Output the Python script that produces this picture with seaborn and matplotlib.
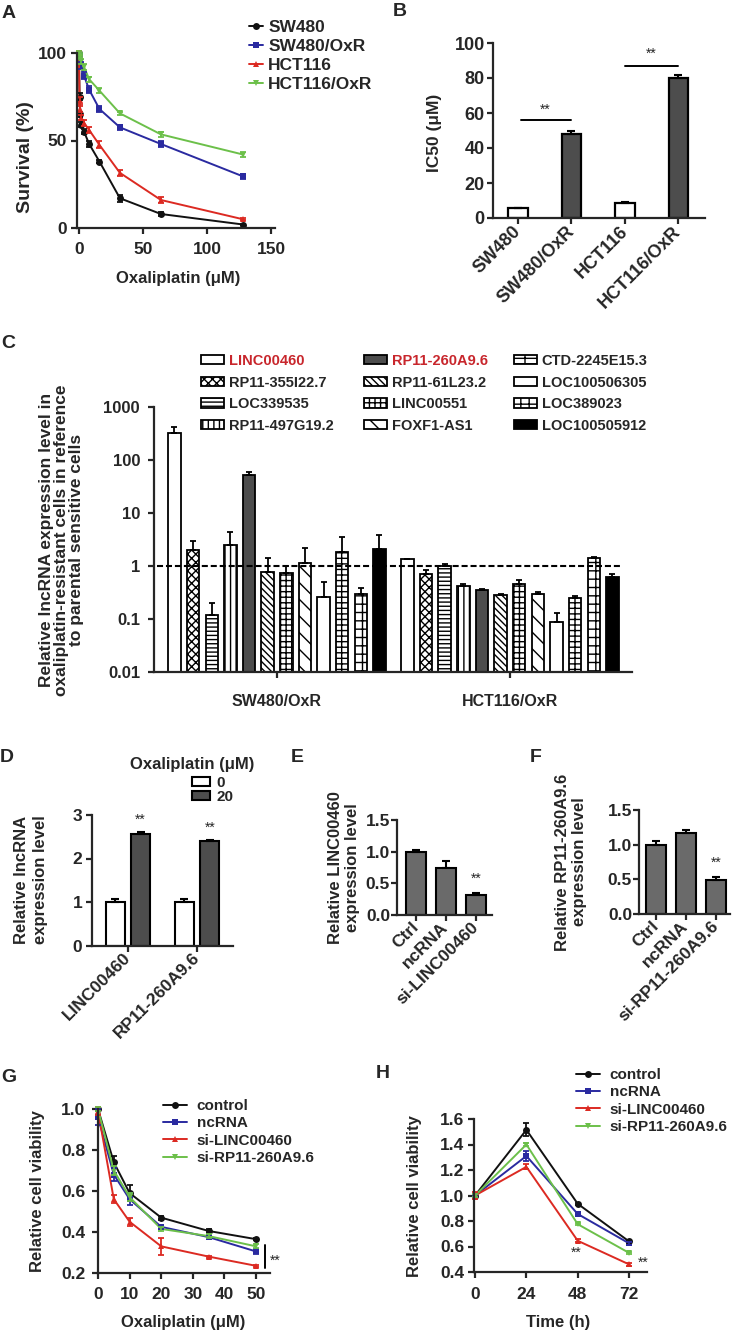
"""
Oxaliplatin resistance / lncRNA multi-panel figure (A-H).
"""

import numpy as np
import pandas as pd
import matplotlib
matplotlib.use('Agg')
import matplotlib.pyplot as plt
import seaborn as sns
from matplotlib.patches import Patch
from matplotlib.lines import Line2D

# ---------------- data ----------------
# A: survival curves
dose_a = [0, 0.5, 1, 2, 4, 8, 16, 32, 64, 128]
lines_a = ['SW480', 'SW480/OxR', 'HCT116', 'HCT116/OxR']
surv_sw480 = [100, 75, 65, 59, 55, 48, 38, 17, 8, 2]
surv_sw480_oxr = [100, 99, 98, 93, 87, 79, 68, 57.5, 48, 29.5]
surv_hct116 = [100, 73, 68, 63, 60, 56, 47.5, 31.5, 16, 5]
surv_hct116_oxr = [100, 99, 98, 95, 92, 85, 78.5, 65.5, 53.5, 42]
err_sw480 = [1, 2, 1.5, 1.5, 1.5, 1.5, 1, 2, 1, 0.5]
err_sw480_oxr = [1, 1, 1.5, 2, 2, 2, 1.5, 1.5, 1.5, 1.5]
err_hct116 = [1, 2, 1.5, 1.5, 1.5, 1.5, 2, 1.5, 1.5, 0.5]
err_hct116_oxr = [1, 1, 1, 1.5, 1.5, 1.5, 1.5, 1, 1.5, 1.5]

# B: IC50
ic50_cells = ['SW480', 'SW480/OxR', 'HCT116', 'HCT116/OxR']
ic50_vals = [5.5, 48, 8.5, 80]
ic50_err = [0.3, 2, 0.4, 2]

# C: lncRNA expression (resistant vs parental)
groups_c = ['SW480/OxR', 'HCT116/OxR']
lnc_names = ['LINC00460', 'RP11-355I22.7', 'LOC339535', 'RP11-497G19.2',
             'RP11-260A9.6', 'RP11-61L23.2', 'LINC00551', 'FOXF1-AS1',
             'LOC100506305', 'CTD-2245E15.3', 'LOC389023', 'LOC100505912']
lnc_sw480 = [330, 2.0, 0.12, 2.5, 52, 0.78, 0.73, 1.12, 0.26, 1.8, 0.30, 2.05]
lnc_sw480_err = [90, 1.0, 0.08, 1.8, 7, 0.65, 0.27, 1.1, 0.23, 1.7, 0.09, 1.85]
lnc_hct116 = [1.33, 0.71, 1.0, 0.42, 0.36, 0.285, 0.45, 0.29, 0.087, 0.25, 1.39, 0.62]
lnc_hct116_err = [0.03, 0.12, 0.1, 0.04, 0.01, 0.005, 0.1, 0.03, 0.045, 0.02, 0.08, 0.08]
legend_order_c = ['LINC00460', 'RP11-355I22.7', 'LOC339535', 'RP11-497G19.2',
                  'RP11-260A9.6', 'RP11-61L23.2', 'LINC00551', 'FOXF1-AS1',
                  'CTD-2245E15.3', 'LOC100506305', 'LOC389023', 'LOC100505912']

# D: lncRNA induction by oxaliplatin
genes_d = ['LINC00460', 'RP11-260A9.6']
doses_d = ['0', '20']
d_dose0 = [1.0, 1.0]
d_dose0_err = [0.08, 0.07]
d_dose20 = [2.57, 2.4]
d_dose20_err = [0.05, 0.03]

# E, F: knockdown efficiency
groups_e = ['Ctrl', 'ncRNA', 'si-LINC00460']
vals_e = [1.0, 0.74, 0.31]
err_e = [0.03, 0.11, 0.03]
groups_f = ['Ctrl', 'ncRNA', 'si-RP11-260A9.6']
vals_f = [1.0, 1.17, 0.49]
err_f = [0.06, 0.04, 0.05]

# G: viability vs oxaliplatin dose
conds = ['control', 'ncRNA', 'si-LINC00460', 'si-RP11-260A9.6']
dose_g = [0, 5, 10, 20, 35, 50]
g_control = [1.0, 0.74, 0.59, 0.47, 0.405, 0.365]
g_ncrna = [0.96, 0.68, 0.56, 0.425, 0.375, 0.305]
g_si_linc = [0.99, 0.56, 0.45, 0.33, 0.28, 0.235]
g_si_rp11 = [1.0, 0.70, 0.57, 0.415, 0.38, 0.33]
g_control_err = [0.01, 0.03, 0.04, 0.01, 0.01, 0.005]
g_ncrna_err = [0.04, 0.03, 0.03, 0.01, 0.01, 0.01]
g_si_linc_err = [0.02, 0.02, 0.02, 0.04, 0.005, 0.005]
g_si_rp11_err = [0.01, 0.02, 0.02, 0.01, 0.01, 0.01]

# H: viability over time
time_h = [0, 24, 48, 72]
h_control = [1.0, 1.515, 0.935, 0.64]
h_ncrna = [1.0, 1.31, 0.855, 0.625]
h_si_linc = [1.0, 1.225, 0.645, 0.46]
h_si_rp11 = [1.0, 1.40, 0.775, 0.55]
h_control_err = [0.01, 0.05, 0.01, 0.01]
h_ncrna_err = [0.01, 0.04, 0.01, 0.01]
h_si_linc_err = [0.03, 0.02, 0.01, 0.01]
h_si_rp11_err = [0.01, 0.01, 0.01, 0.01]

# ---------------- style ----------------
sns.set_style('ticks')
plt.rcParams['font.family'] = ['Liberation Sans', 'DejaVu Sans']
plt.rcParams['font.weight'] = 'bold'
plt.rcParams['axes.labelweight'] = 'bold'
plt.rcParams['font.size'] = 12
plt.rcParams['hatch.linewidth'] = 1.0

BLACK, BLUE, RED, GREEN = '#111111', '#2a2aa0', '#dc2a22', '#6cc04a'
DARK = '#4d4d4d'
TXT_RED = '#c8262c'

W, H = 734, 1333
fig = plt.figure(figsize=(W / 100, H / 100), dpi=100)


def px_axes(l, t, r, b):
    """Axes whose spines sit at the given pixel box."""
    return fig.add_axes([l / W, 1 - b / H, (r - l) / W, (b - t) / H])


def px_text(x, y, s, **kw):
    kw.setdefault('ha', 'center')
    kw.setdefault('va', 'center')
    return fig.text(x / W, 1 - y / H, s, **kw)


def prism(ax, size=12.5, xpad=2, ypad=2):
    sns.despine(ax=ax)
    for sp in ('left', 'bottom'):
        ax.spines[sp].set_linewidth(1.6)
    ax.tick_params(width=1.6, length=4, labelsize=size)
    ax.tick_params(axis='x', pad=xpad)
    ax.tick_params(axis='y', pad=ypad)
    ax.minorticks_off()
    ax.set_xlabel('')
    ax.set_ylabel('')


def bar_errors(ax, errs, lw=1.5, cap=3):
    bars = sorted(ax.patches, key=lambda p: p.get_x())
    xs = [b.get_x() + b.get_width() / 2 for b in bars]
    ys = [b.get_height() for b in bars]
    ax.errorbar(xs, ys, yerr=[np.zeros(len(errs)), errs], fmt='none',
                ecolor='black', elinewidth=lw, capsize=cap, capthick=lw, zorder=1)
    return bars


def line_panel(ax, x, series, errs, names, colors, markers):
    df = pd.DataFrame({'x': list(x) * len(series),
                       'y': np.concatenate(series),
                       'g': np.repeat(names, len(x))})
    sns.lineplot(data=df, x='x', y='y', hue='g', style='g', hue_order=names,
                 palette=dict(zip(names, colors)), markers=dict(zip(names, markers)),
                 dashes=False, errorbar=None, legend=False, ax=ax, lw=1.4,
                 markersize=5, markeredgewidth=0, clip_on=False)
    for s, e, c in zip(series, errs, colors):
        ax.errorbar(x, s, yerr=e, fmt='none', ecolor=c, elinewidth=1.3,
                    capsize=2.5, capthick=1.3, clip_on=False)
    return [Line2D([0], [0], color=c, marker=m, lw=1.4, markersize=5,
                   markeredgewidth=0) for c, m in zip(colors, markers)]


def rotate_xticks(ax, size=12.5):
    plt.setp(ax.get_xticklabels(), rotation=45, ha='right', va='center',
             rotation_mode='anchor', fontsize=size)


# ---------------- A ----------------
ax = px_axes(77, 53, 275, 228)
handles = line_panel(ax, dose_a,
                     [surv_sw480, surv_sw480_oxr, surv_hct116, surv_hct116_oxr],
                     [err_sw480, err_sw480_oxr, err_hct116, err_hct116_oxr],
                     lines_a, [BLACK, BLUE, RED, GREEN], ['o', 's', '^', 'v'])
ax.set_xlim(-1.5, 153)
ax.set_ylim(0, 100)
ax.set_xticks([0, 50, 100, 150])
ax.set_yticks([0, 50, 100])
prism(ax, size=12.5, xpad=6, ypad=3)
px_text(25, 157, 'Survival (%)', rotation=90, fontsize=14)
px_text(178, 279, 'Oxaliplatin (μM)', fontsize=12)
fig.legend(handles, lines_a, loc='upper left', bbox_to_anchor=(249 / W, 1 - 20 / H),
           frameon=False, borderpad=0, borderaxespad=0, handlelength=0.8,
           handletextpad=0.3, labelspacing=0.22, fontsize=12.5)

# ---------------- B ----------------
ax = px_axes(493, 43, 705, 218)
df_b = pd.DataFrame({'cell': ic50_cells, 'ic50': ic50_vals})
sns.barplot(data=df_b, x='cell', y='ic50', hue='cell', order=ic50_cells,
            palette=['white', DARK, 'white', DARK], dodge=False, width=0.36,
            edgecolor='black', linewidth=1.6, legend=False, ax=ax)
bar_errors(ax, ic50_err)
ax.set_xlim(-0.47, 3.5)
ax.set_ylim(0, 100)
ax.set_yticks(range(0, 101, 20))
prism(ax, size=13, xpad=4, ypad=2)
rotate_xticks(ax, 13)
ax.plot([0.05, 1.0], [56, 56], color='black', lw=1.4)
ax.plot([2.0, 3.0], [87, 87], color='black', lw=1.4)
ax.text(0.5, 62, '**', ha='center', va='center', fontsize=10, fontweight='normal')
ax.text(2.5, 94, '**', ha='center', va='center', fontsize=10, fontweight='normal')
px_text(435, 133, 'IC50 (μM)', rotation=90, fontsize=12.5)

# ---------------- C ----------------
style_c = {
    'LINC00460': ('white', ''),
    'RP11-355I22.7': ('white', 'xxxx'),
    'LOC339535': ('white', '----'),
    'RP11-497G19.2': ('white', '|||'),
    'RP11-260A9.6': (DARK, ''),
    'RP11-61L23.2': ('white', '\\\\\\\\\\'),
    'LINC00551': ('white', '+++'),
    'FOXF1-AS1': ('white', '\\\\'),
    'LOC100506305': ('white', ''),
    'CTD-2245E15.3': ('white', '---|'),
    'LOC389023': ('white', '++'),
    'LOC100505912': ('black', ''),
}
ax = px_axes(154, 407, 632, 672)
ax.set_yscale('log')
df_c = pd.DataFrame({'group': np.repeat(groups_c, len(lnc_names)),
                     'lnc': lnc_names * 2,
                     'expr': lnc_sw480 + lnc_hct116})
sns.barplot(data=df_c, x='group', y='expr', hue='lnc', hue_order=lnc_names,
            order=groups_c, palette=['white'] * len(lnc_names), width=0.96, gap=0.33,
            edgecolor='black', linewidth=1.3, legend=False, ax=ax)
bars = bar_errors(ax, lnc_sw480_err + lnc_hct116_err, lw=1.3, cap=2.5)
for i, b in enumerate(bars):
    fc, hatch = style_c[lnc_names[i % len(lnc_names)]]
    b.set_facecolor(fc)
    b.set_hatch(hatch)
ax.axhline(1, xmin=0.006, xmax=0.975, color='black', lw=1.5, ls=(0, (2.9, 1.4)), zorder=5)
ax.set_xlim(-0.528, 1.524)
ax.set_ylim(0.01, 1000)
ax.set_yticks([0.01, 0.1, 1, 10, 100, 1000])
ax.set_yticklabels(['0.01', '0.1', '1', '10', '100', '1000'])
prism(ax, size=12, xpad=12, ypad=6)
ax.tick_params(axis='x', labelsize=11.5)
px_text(62, 540, 'Relative lncRNA expression level in\noxaliplatin-resistant cells in reference\n'
        'to parental sensitive cells', rotation=90, fontsize=12.5, linespacing=1.0)
col_x = [201, 364, 514]
for ci in range(3):
    names = legend_order_c[ci * 4:(ci + 1) * 4]
    hs = [Patch(facecolor=style_c[n][0], hatch=style_c[n][1], edgecolor='black', lw=1.3)
          for n in names]
    leg = fig.legend(hs, names, loc='upper left', bbox_to_anchor=(col_x[ci] / W, 1 - 354 / H),
                     frameon=False, borderpad=0, borderaxespad=0, handlelength=1.6,
                     handleheight=0.6, handletextpad=0.3, labelspacing=0.52,
                     prop={'weight': 'bold', 'size': 10.5})
    for t in leg.get_texts():
        if t.get_text() in ('LINC00460', 'RP11-260A9.6'):
            t.set_color(TXT_RED)

# ---------------- D ----------------
ax = px_axes(92, 815, 233, 945.5)
df_d = pd.DataFrame({'gene': genes_d * 2, 'dose': np.repeat(doses_d, 2),
                     'expr': d_dose0 + d_dose20})
sns.barplot(data=df_d, x='gene', y='expr', hue='dose', order=genes_d, hue_order=doses_d,
            palette=['white', DARK], width=0.74, gap=0.25, edgecolor='black',
            linewidth=1.5, legend=False, ax=ax)
bar_errors(ax, [d_dose0_err[0], d_dose20_err[0], d_dose0_err[1], d_dose20_err[1]])
ax.set_xlim(-0.52, 1.52)
ax.set_ylim(0, 3)
ax.set_yticks([0, 1, 2, 3])
prism(ax, size=12.5, xpad=3, ypad=3)
rotate_xticks(ax)
ax.text(0.18, 2.9, '**', ha='center', va='center', fontsize=10, fontweight='normal')
ax.text(1.19, 2.7, '**', ha='center', va='center', fontsize=10, fontweight='normal')
px_text(31, 880, 'Relative lncRNA\nexpression level', rotation=90, fontsize=12, linespacing=1.3)
px_text(192, 764, 'Oxaliplatin (μM)', fontsize=12)
hs = [Patch(facecolor='white', edgecolor='black', lw=1.5), Patch(facecolor=DARK, edgecolor='black', lw=1.5)]
fig.legend(hs, doses_d, loc='upper left', bbox_to_anchor=(192 / W, 1 - 776 / H),
           frameon=False, borderpad=0, borderaxespad=0, handlelength=1.2, handleheight=0.5,
           handletextpad=0.4, labelspacing=0.0, prop={'weight': 'bold', 'size': 11})

# ---------------- E / F ----------------
for (l, t, r, b), groups, vals, errs, ylabel, lab_x, star_y, xl in [
        ((397, 820, 492, 915), groups_e, vals_e, err_e, 'Relative LINC00460\nexpression level', 344, 0.57, (-0.63, 2.53)),
        ((639, 810, 730, 914), groups_f, vals_f, err_f, 'Relative RP11-260A9.6\nexpression level', 571, 0.74, (-0.57, 2.47))]:
    ax = px_axes(l, t, r, b)
    df_e = pd.DataFrame({'grp': groups, 'val': vals})
    sns.barplot(data=df_e, x='grp', y='val', order=groups, color='#6a6a6a', width=0.66,
                edgecolor='black', linewidth=1.5, ax=ax)
    bar_errors(ax, errs)
    ax.set_xlim(*xl)
    ax.set_ylim(0, 1.5)
    ax.set_yticks([0, 0.5, 1.0, 1.5])
    ax.set_yticklabels(['0.0', '0.5', '1.0', '1.5'])
    prism(ax, size=12.5, xpad=3, ypad=1)
    rotate_xticks(ax)
    ax.text(2, star_y, '**', ha='center', va='center', fontsize=10, fontweight='normal')
    px_text(lab_x, (t + b) / 2, ylabel, rotation=90, fontsize=12, linespacing=1.2)

# ---------------- G ----------------
cond_colors = [BLACK, BLUE, RED, GREEN]
cond_markers = ['o', 's', '^', 'v']
ax = px_axes(98, 1109, 270, 1273)
handles = line_panel(ax, dose_g, [g_control, g_ncrna, g_si_linc, g_si_rp11],
                     [g_control_err, g_ncrna_err, g_si_linc_err, g_si_rp11_err],
                     conds, cond_colors, cond_markers)
ax.set_xlim(0, 54.4)
ax.set_ylim(0.2, 1.0)
ax.set_xticks(range(0, 51, 10))
ax.set_yticks([0.2, 0.4, 0.6, 0.8, 1.0])
prism(ax, size=12.5, xpad=6, ypad=5)
ax.plot([52.8, 52.8], [0.222, 0.335], color='black', lw=1.4, clip_on=False)
ax.text(54.2, 0.262, '**', ha='left', va='center', fontsize=10, fontweight='normal')
px_text(38, 1191, 'Relative cell viability', rotation=90, fontsize=12)
px_text(183, 1322, 'Oxaliplatin (μM)', fontsize=12)
fig.legend(handles, conds, loc='upper left', bbox_to_anchor=(163 / W, 1 - 1099 / H),
           frameon=False, borderpad=0, borderaxespad=0, handlelength=1.6,
           handletextpad=0.6, labelspacing=0.22, fontsize=11)

# ---------------- H ----------------
ax = px_axes(474, 1119, 647, 1272)
handles = line_panel(ax, time_h, [h_control, h_ncrna, h_si_linc, h_si_rp11],
                     [h_control_err, h_ncrna_err, h_si_linc_err, h_si_rp11_err],
                     conds, cond_colors, cond_markers)
ax.set_xlim(-0.5, 80.4)
ax.set_ylim(0.4, 1.6)
ax.set_xticks(time_h)
ax.set_yticks(np.round(np.arange(0.4, 1.61, 0.2), 1))
prism(ax, size=12.5, xpad=7, ypad=3)
ax.text(47.2, 0.55, '**', ha='center', va='center', fontsize=10, fontweight='normal')
ax.text(78.5, 0.47, '**', ha='center', va='center', fontsize=10, fontweight='normal')
px_text(415, 1196, 'Relative cell viability', rotation=90, fontsize=12)
px_text(558, 1322, 'Time (h)', fontsize=12)
fig.legend(handles, conds, loc='upper left', bbox_to_anchor=(576 / W, 1 - 1068 / H),
           frameon=False, borderpad=0, borderaxespad=0, handlelength=1.6,
           handletextpad=0.6, labelspacing=0.22, fontsize=11)

# ---------------- panel letters ----------------
for letter, x, y in [('A', 9, 13), ('B', 400, 12), ('C', 8, 344), ('D', 7, 757),
                     ('E', 297, 757), ('F', 536, 757), ('G', 9, 1078), ('H', 383, 1074)]:
    px_text(x, y, letter, fontsize=14, fontweight='bold')

fig.savefig('out.png', dpi=100)
